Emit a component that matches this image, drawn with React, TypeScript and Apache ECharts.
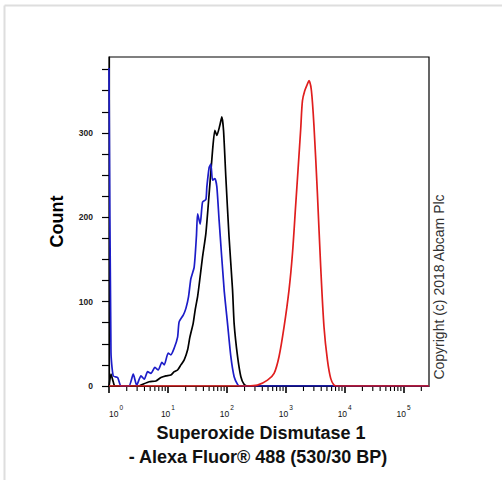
import React, { useEffect, useRef } from "react";
import * as echarts from "echarts";

// Intensity (x, log scale) and Count (y)
const blackSeries: [number, number][] = [
  [1.0, 0], [1.08, 14], [1.18, 5], [1.26, 0], [3.22, 0], [3.73, 2], [4.82, 5], [6.26, 6],
  [7.61, 10], [9.25, 12], [11.2, 13], [12.8, 17], [14.6, 19], [16.6, 25], [18.9, 31],
  [21.6, 43], [23.6, 58], [26.8, 74], [29.0, 90], [31.9, 106], [33.9, 120], [38.7, 153],
  [44.1, 181], [50.1, 228], [57.2, 279], [62.6, 303], [67.7, 297], [76.1, 309], [82.3, 319],
  [87.9, 303], [96.1, 248], [109, 177], [125, 114], [133, 74], [152, 35], [173, 11],
  [196, 2], [224, 0], [270000, 0],
];

const blueSeries: [number, number][] = [
  [1.0, 377], [1.08, 40], [1.18, 12], [1.4, 10], [1.6, 0], [2.18, 0], [2.58, 14], [2.95, 1],
  [3.49, 12], [3.97, 8], [4.53, 17], [5.15, 15], [6.02, 22], [6.85, 19], [7.91, 28],
  [8.66, 25], [10.1, 39], [11.2, 37], [12.8, 45], [14.6, 58], [15.5, 76], [18.2, 84],
  [20.2, 92], [22.4, 106], [24.5, 127], [27.9, 141], [30.5, 178], [31.9, 204], [35.3, 192],
  [38.7, 218], [44.1, 221], [45.8, 236], [50.1, 259], [53.5, 263], [57.2, 244], [62.6, 246],
  [67.7, 236], [74.0, 196], [90.0, 114], [102.8, 74], [116.9, 35], [133, 11], [152, 2],
  [165, 0], [270000, 0],
];

const redSeries: [number, number][] = [
  [1.0, 0], [224, 0], [331, 1], [490, 7], [634, 15], [770, 35], [936, 70], [1137, 114],
  [1300, 157], [1476, 215], [1615, 256], [1795, 305], [1919, 338], [2100, 350], [2333, 358],
  [2483, 362], [2728, 350], [3020, 307], [3446, 228], [3920, 141], [4459, 70], [5094, 31],
  [5795, 9], [6592, 1], [7500, 0], [270000, 0],
];

const xMin = 1;
const xMax = 270000;
const yMax = 390;
const decades = [1, 10, 100, 1000, 10000, 100000];
const minorMultipliers = [2, 3, 4, 5, 6, 7, 8, 9];
const yLabelValues = [0, 100, 200, 300];
const yTickStep = 25;
const yTickTop = 375;
const xTitleLines = ["Superoxide Dismutase 1", "- Alexa Fluor® 488 (530/30 BP)"];
const copyrightText = "Copyright (c) 2018 Abcam Plc";

const FONT = '"Liberation Sans", Arial, sans-serif';

export default function App() {
  const ref = useRef<HTMLDivElement>(null);

  useEffect(() => {
    if (!ref.current) return;
    const chart = echarts.init(ref.current, null, { renderer: "svg" });

    const minorTicks = decades
      .flatMap((d) => minorMultipliers.map((m) => [m * d, 0]))
      .filter((p) => p[0] < xMax);
    const yTicks: number[] = [];
    for (let v = 0; v <= yTickTop; v += yTickStep) yTicks.push(v);

    const option: any = {
      animation: false,
      backgroundColor: "#ffffff",
      textStyle: { fontFamily: FONT },
      grid: {
        left: 109,
        right: 73,
        top: 57,
        bottom: 94,
        show: true,
        borderColor: "#000",
        borderWidth: 1.2,
      },
      xAxis: {
        type: "log",
        logBase: 10,
        min: xMin,
        max: xMax,
        axisLine: { show: true, onZero: false, lineStyle: { color: "#000", width: 1.2 } },
        axisTick: {
          show: true,
          inside: false,
          length: 7,
          customValues: decades,
          lineStyle: { color: "#000", width: 1.6 },
        },
        splitLine: { show: false },
        axisLabel: {
          margin: 18,
          customValues: decades,
          alignMinLabel: "left",
          formatter: (v: number) => `{b|10}{s|${Math.round(Math.log10(v))}}`,
          rich: {
            b: { fontSize: 8.5, fontFamily: FONT, color: "#111", lineHeight: 14, verticalAlign: "bottom" },
            s: { fontSize: 6.5, fontFamily: FONT, color: "#111", lineHeight: 14, verticalAlign: "top", padding: [0, 0, 0, 1] },
          },
        },
      },
      yAxis: {
        type: "value",
        min: 0,
        max: yMax,
        name: "Count",
        nameLocation: "middle",
        nameGap: 43,
        nameTextStyle: { fontSize: 18, fontWeight: "bold", color: "#000", fontFamily: FONT },
        axisLine: { show: true, lineStyle: { color: "#000", width: 1.2 } },
        axisTick: {
          show: true,
          inside: false,
          length: 7,
          customValues: yTicks,
          lineStyle: { color: "#000", width: 1.2 },
        },
        splitLine: { show: false },
        axisLabel: {
          customValues: yLabelValues,
          fontSize: 8.5,
          fontWeight: "bold",
          color: "#222",
          margin: 16,
          fontFamily: FONT,
        },
      },
      series: [
        {
          type: "line",
          data: blackSeries,
          showSymbol: false,
          smooth: 0.2,
          lineStyle: { color: "#000000", width: 1.7 },
          silent: true,
        },
        {
          type: "line",
          data: blueSeries,
          showSymbol: false,
          smooth: 0.2,
          lineStyle: { color: "#1c1cc8", width: 1.7 },
          silent: true,
        },
        {
          type: "line",
          data: redSeries,
          showSymbol: false,
          smooth: 0.3,
          lineStyle: { color: "#e01e1e", width: 1.7 },
          silent: true,
        },
        {
          type: "custom",
          silent: true,
          clip: false,
          data: minorTicks,
          renderItem: (params: any, api: any) => {
            const pt = api.coord([api.value(0), 0]);
            return {
              type: "line",
              shape: { x1: pt[0], y1: pt[1], x2: pt[0], y2: pt[1] + 5 },
              style: { stroke: "#000", lineWidth: 1.1 },
            };
          },
        },
      ],
      graphic: [
        { type: "line", shape: { x1: 4.5, y1: 5.5, x2: 502, y2: 5.5 }, style: { stroke: "#dedede", lineWidth: 2 } },
        { type: "line", shape: { x1: 4.5, y1: 5.5, x2: 4.5, y2: 480 }, style: { stroke: "#dedede", lineWidth: 2 } },
        {
          type: "text",
          x: 261,
          y: 433,
          style: { text: xTitleLines[0], font: `bold 18px ${FONT}`, fill: "#111", textAlign: "center", textVerticalAlign: "middle" },
        },
        {
          type: "text",
          x: 258,
          y: 457,
          style: { text: xTitleLines[1], font: `bold 18px ${FONT}`, fill: "#111", textAlign: "center", textVerticalAlign: "middle" },
        },
        {
          type: "text",
          x: 439,
          y: 287,
          rotation: Math.PI / 2,
          style: { text: copyrightText, font: `14px ${FONT}`, fill: "#333", textAlign: "center", textVerticalAlign: "middle" },
        },
      ],
    };

    chart.setOption(option);
    return () => chart.dispose();
  }, []);

  return (
    <div
      ref={ref}
      style={{ position: "fixed", left: 0, top: 0, width: 502, height: 480 }}
    />
  );
}
